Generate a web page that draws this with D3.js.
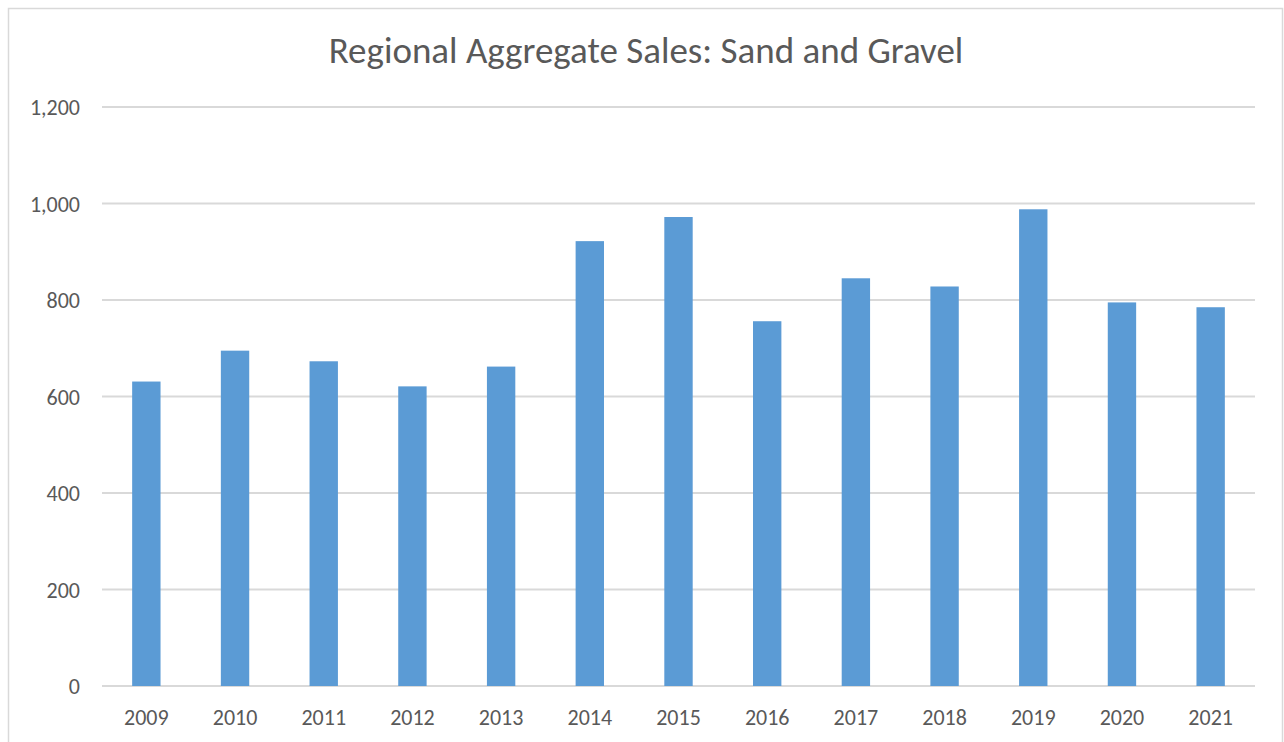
<!DOCTYPE html>
<html>
<head>
    <title>Regional Aggregate Sales: Sand and Gravel</title>
    <style>
        body { margin: 0; background: #fff; }
        .axis text { font-family: Calibri, Carlito, Lato, sans-serif; font-size: 22px; fill: #595959; }
        .grid line { stroke: #d9d9d9; stroke-width: 2px; }
        .title { font-family: Calibri, Carlito, Lato, sans-serif; font-size: 37px; fill: #595959; }
    </style>
</head>
<body>
    <svg width="1284" height="742"></svg>
    <script src="https://cdnjs.cloudflare.com/ajax/libs/d3/7.8.5/d3.min.js"></script>
    <script>
        // Datos
        var years = ["2009", "2010", "2011", "2012", "2013", "2014", "2015", "2016", "2017", "2018", "2019", "2020", "2021"];
        var sales = [631, 695, 673, 621, 662, 922, 972, 756, 845, 828, 988, 795, 785];
        var yTicks = [0, 200, 400, 600, 800, 1000, 1200];

        var svg = d3.select("svg");
        var margin = {left: 102, right: 1255, top: 107, bottom: 686};

        // Borde del gráfico
        svg.append("rect")
            .attr("x", 8.5).attr("y", 8.5)
            .attr("width", 1274).attr("height", 745)
            .attr("fill", "#fff")
            .attr("stroke", "#d9d9d9")
            .attr("stroke-width", 1.5);

        var x = d3.scaleBand()
            .domain(years)
            .range([margin.left, margin.right])
            .paddingInner(0.68)
            .paddingOuter(0.34);

        var y = d3.scaleLinear()
            .domain([0, 1200])
            .range([margin.bottom, margin.top]);

        // Líneas de cuadrícula
        svg.append("g")
            .attr("class", "grid")
            .selectAll("line")
            .data(yTicks)
            .enter().append("line")
            .attr("x1", margin.left)
            .attr("x2", margin.right)
            .attr("y1", function(d) { return y(d); })
            .attr("y2", function(d) { return y(d); });

        // Barras
        svg.append("g")
            .selectAll("rect")
            .data(sales)
            .enter().append("rect")
            .attr("x", function(d, i) { return x(years[i]); })
            .attr("y", function(d) { return y(d); })
            .attr("width", x.bandwidth())
            .attr("height", function(d) { return y(0) - y(d); })
            .attr("fill", "#5b9bd5");

        // Eje Y
        var yAxis = svg.append("g")
            .attr("class", "axis")
            .attr("transform", "translate(" + (margin.left - 22) + ",0)")
            .call(d3.axisLeft(y).tickValues(yTicks).tickSize(0).tickFormat(d3.format(",")));
        yAxis.select(".domain").remove();
        yAxis.selectAll("text").attr("x", 0).attr("dy", "0.35em");

        // Eje X
        var xAxis = svg.append("g")
            .attr("class", "axis")
            .attr("transform", "translate(0," + margin.bottom + ")")
            .call(d3.axisBottom(x).tickSize(0));
        xAxis.select(".domain").remove();
        xAxis.selectAll("text").attr("y", 31).attr("dy", "0.35em");

        // Título
        svg.append("text")
            .attr("class", "title")
            .attr("x", 646)
            .attr("y", 63)
            .attr("text-anchor", "middle")
            .text("Regional Aggregate Sales: Sand and Gravel");
    </script>
</body>
</html>
